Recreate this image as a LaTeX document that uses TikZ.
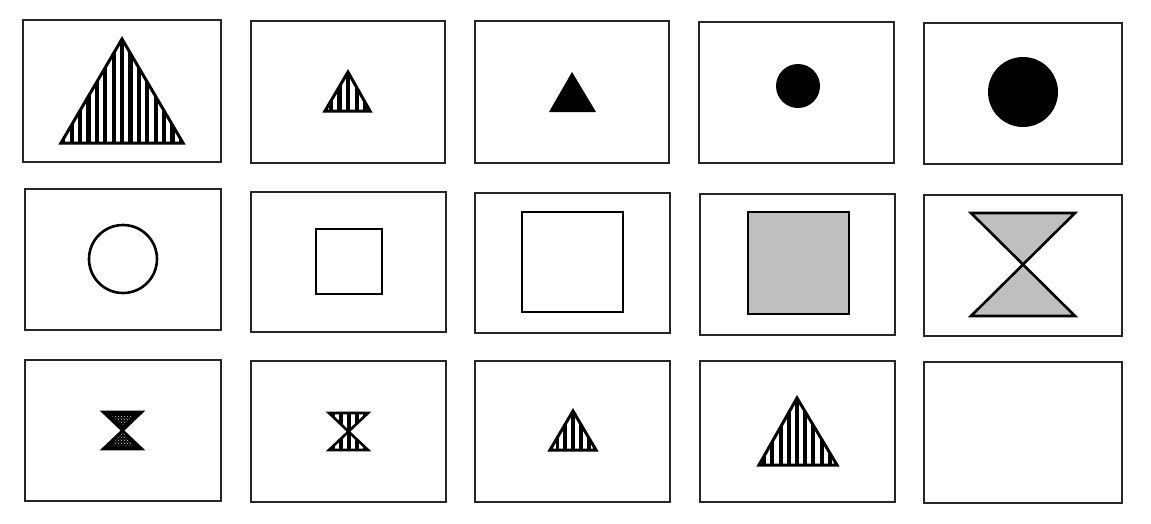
\documentclass[tikz,border=0pt]{standalone}
\usetikzlibrary{patterns}
\tikzset{
  panel/.style={draw=black!85, line width=1.3pt},
  shapeline/.style={draw=black, line width=2.6pt, line join=miter},
  tribord/.style={draw=black, line width=3pt, line join=miter},
  stripe/.style={line width=#1, black},
}
\begin{document}
\begin{tikzpicture}[x=1pt,y=-1pt]
\useasboundingbox[fill=white] (0,0) rectangle (1151,523);
% ---------- panels ----------
\draw[panel] (23,20) rectangle (221,162);
\draw[panel] (251,21) rectangle (445,163);
\draw[panel] (475,21) rectangle (669,163);
\draw[panel] (699,22) rectangle (894,163);
\draw[panel] (924,23) rectangle (1122,164);
\draw[panel] (25,189) rectangle (221,330);
\draw[panel] (251,192) rectangle (446,332);
\draw[panel] (475,193) rectangle (670,333);
\draw[panel] (700,194) rectangle (895,335);
\draw[panel] (924,195) rectangle (1122,336);
\draw[panel] (25,360) rectangle (221,501);
\draw[panel] (251,361) rectangle (446,502);
\draw[panel] (475,361) rectangle (670,502);
\draw[panel] (700,361) rectangle (895,502);
\draw[panel] (924,362) rectangle (1122,503);
% ---------- row 1 ----------
% big striped triangle
\begin{scope}
  \clip (122,39) -- (183,143) -- (61,143) -- cycle;
  \foreach \i in {-8,...,8} \draw[stripe=4.2pt] ({122+\i*8.4},30) -- ({122+\i*8.4},150);
\end{scope}
\draw[tribord] (122,39) -- (183,143) -- (61,143) -- cycle;
% small striped triangle
\begin{scope}
  \clip (348,72) -- (370,111) -- (325,111) -- cycle;
  \foreach \i in {-3,...,3} \draw[stripe=4.2pt] ({348+\i*8.6},60) -- ({348+\i*8.6},120);
\end{scope}
\draw[tribord] (348,72) -- (370,111) -- (325,111) -- cycle;
% black triangle
\fill[black] (572,72) -- (596,112) -- (549,112) -- cycle;
% black circles
\fill[black] (798,86) circle (22);
\fill[black] (1023,92) circle (35);
% ---------- row 2 ----------
\draw[shapeline] (123,259) circle (34);
\draw[shapeline] (316,229) rectangle (382,294);
\draw[shapeline] (522,212) rectangle (623,312);
\draw[shapeline, fill=black!25] (748,212) rectangle (849,314);
\draw[shapeline, fill=black!25] (971,213) -- (1075,213) -- (971,316) -- (1075,316) -- cycle;
% ---------- row 3 ----------
% dark speckled hourglass
\draw[shapeline, fill=black] (103,412) -- (142,412) -- (103,449) -- (142,449) -- cycle;
\fill[pattern=crosshatch dots, pattern color=white!85!black] (112,416) -- (133,416) -- (122.5,426) -- cycle;
\fill[pattern=crosshatch dots, pattern color=white!85!black] (122.5,432) -- (111,446) -- (134,446) -- cycle;
% striped hourglass
\begin{scope}
  \clip (329,413) -- (368,413) -- (329,450) -- (368,450) -- cycle;
  \foreach \i in {-3,...,3} \draw[stripe=4pt] ({348.5+\i*8},405) -- ({348.5+\i*8},458);
\end{scope}
\draw[shapeline] (329,413) -- (368,413) -- (329,450) -- (368,450) -- cycle;
% small striped triangle
\begin{scope}
  \clip (573,411) -- (596,450) -- (550,450) -- cycle;
  \foreach \i in {-4,...,4} \draw[stripe=3.8pt] ({573+\i*7.8},400) -- ({573+\i*7.8},460);
\end{scope}
\draw[tribord] (573,411) -- (596,450) -- (550,450) -- cycle;
% medium striped triangle
\begin{scope}
  \clip (797,398) -- (837,465) -- (759,465) -- cycle;
  \foreach \i in {-6,...,6} \draw[stripe=4pt] ({797+\i*8.2},390) -- ({797+\i*8.2},470);
\end{scope}
\draw[tribord] (797,398) -- (837,465) -- (759,465) -- cycle;
\end{tikzpicture}
\end{document}
